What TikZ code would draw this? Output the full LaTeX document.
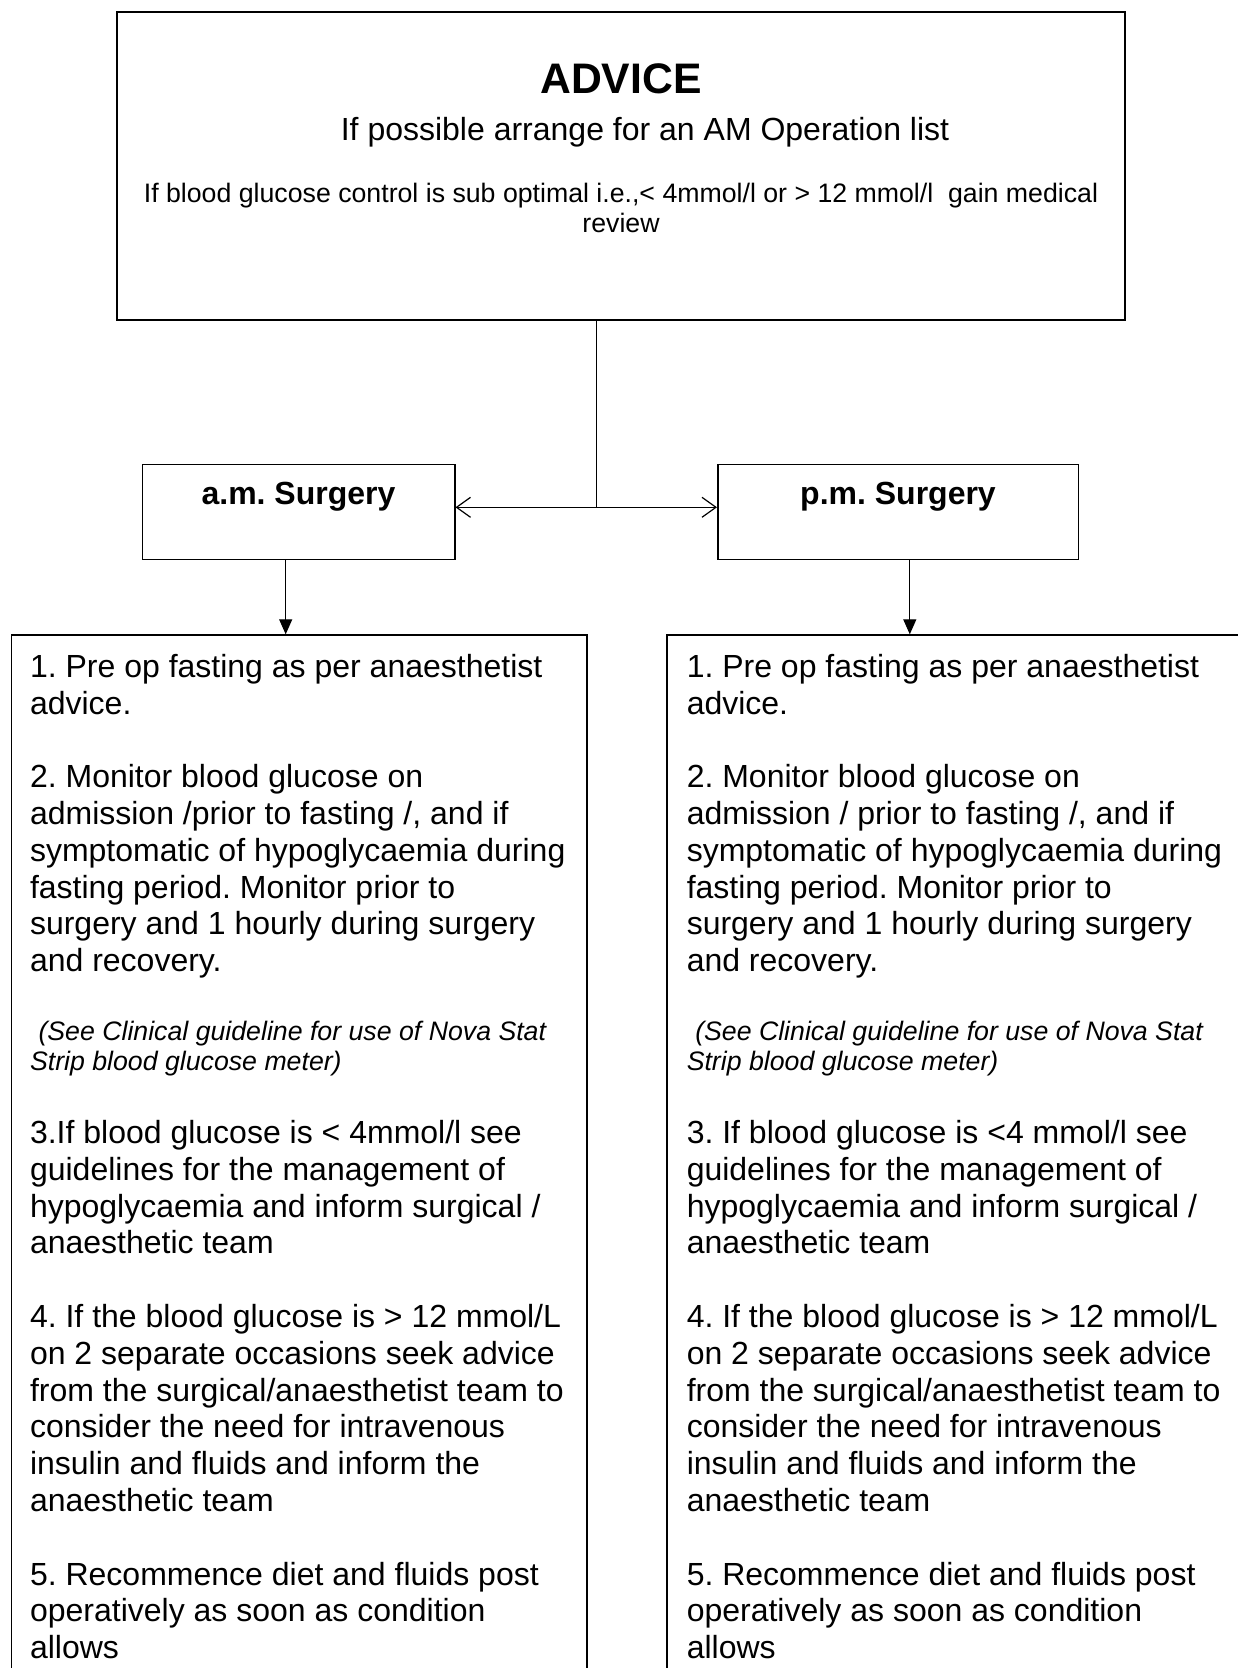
\documentclass[tikz,border=0pt]{standalone}
\usepackage{fontspec}
\setmainfont{Liberation Sans}
\usepackage{tikz}
\usetikzlibrary{
    calc,
    arrows.meta,
    positioning
}
\frenchspacing
\newcommand{\listfont}{\fontsize{32}{36.8}\selectfont\parindent=0pt}
\newcommand{\notefont}{\fontsize{26.7}{30}\itshape\selectfont}
\newcommand{\gap}{\par\vspace{36.8pt}}
\tikzset{
    box/.style={draw, rectangle, line width=1.5pt, inner sep=0pt},
    surgery/.style={box, anchor=north west, font=\fontsize{32}{36.8}\bfseries\selectfont,
        text height=39.8pt, text depth=55.2pt},
    steps/.style={box, anchor=north west, align=flush left, text width=538pt,
        inner xsep=18.7pt, inner ysep=0pt, text height=42.3pt, text depth=1100pt, font=\listfont},
    flow/.style={-{Triangle[length=15pt,width=13pt]}, line width=1.2pt},
    twoway/.style={{Straight Barb[length=14pt,width=20pt]}-{Straight Barb[length=14pt,width=20pt]}, line width=1.2pt}
}

\begin{document}
\begin{tikzpicture}[x=1pt,y=-1pt]
    \useasboundingbox (0,0) rectangle (1238,1668);
    \clip (0,0) rectangle (1238,1668);

    \node[box, anchor=north, align=flush center, text width=988pt, inner xsep=10pt,
        text height=81.7pt, text depth=226.6pt] (advice) at (621,11) {%
        {\fontsize{42.7}{47}\bfseries\selectfont ADVICE\par}
        \vspace{10.5pt}
        {\fontsize{32}{36.8}\selectfont\hspace*{48pt}If possible arrange for an AM Operation list\par}
        \vspace{31.7pt}
        {\fontsize{26.7}{30}\selectfont If blood glucose control is sub optimal i.e.,< 4mmol/l or > 12 mmol/l\ \ gain medical\\ review\par}};

    \node[surgery, minimum width=312.5pt] (am) at (141.5,463.7) {a.m. Surgery};
    \node[surgery, minimum width=360.5pt] (pm) at (717,463.7) {p.m. Surgery};

    \coordinate (split) at (596.5,507.3);
    \draw[line width=1.2pt] (advice.south -| split) -- (split);
    \draw[twoway] (am.east |- split) -- (pm.west |- split);

    \node[steps] (amsteps) at (10.6,634.3) {%
        1. Pre op fasting as per anaesthetist\\ advice.\gap
        2. Monitor blood glucose on\\ admission /prior to fasting /, and if\\ symptomatic of hypoglycaemia during\\
        fasting period. Monitor prior to\\ surgery and 1 hourly during surgery\\ and recovery.\par\vspace{38.5pt}
        {\notefont\hspace*{8.5pt}(See Clinical guideline for use of Nova Stat\\ Strip blood glucose meter)\par}\vspace{36.5pt}
        3.If blood glucose is < 4mmol/l see\\ guidelines for the management of\\ hypoglycaemia and inform surgical /\\ anaesthetic team\gap
        4. If the blood glucose is > 12 mmol/L\\ on 2 separate occasions seek advice\\ from the surgical/anaesthetist team to\\
        consider the need for intravenous\\ insulin and fluids and inform the\\ anaesthetic team\gap
        5. Recommence diet and fluids post\\ operatively as soon as condition\\ allows};
    \node[steps, text width=560pt, inner xsep=20pt] (pmsteps) at (666,634.3) {%
        1. Pre op fasting as per anaesthetist\\ advice.\gap
        2. Monitor blood glucose on\\ admission / prior to fasting /, and if\\ symptomatic of hypoglycaemia during\\
        fasting period. Monitor prior to\\ surgery and 1 hourly during surgery\\ and recovery.\par\vspace{38.5pt}
        {\notefont\hspace*{8.5pt}(See Clinical guideline for use of Nova Stat\\ Strip blood glucose meter)\par}\vspace{36.5pt}
        3. If blood glucose is <4 mmol/l see\\ guidelines for the management of\\ hypoglycaemia and inform surgical /\\ anaesthetic team\gap
        4. If the blood glucose is > 12 mmol/L\\ on 2 separate occasions seek advice\\ from the surgical/anaesthetist team to\\
        consider the need for intravenous\\ insulin and fluids and inform the\\ anaesthetic team\gap
        5. Recommence diet and fluids post\\ operatively as soon as condition\\ allows};

    \draw[flow] ([xshift=-12.8pt]am.south) -- ([xshift=-12.8pt]am.south |- amsteps.north);
    \draw[flow] ([xshift=11.8pt]pm.south) -- ([xshift=11.8pt]pm.south |- pmsteps.north);
\end{tikzpicture}
\end{document}
